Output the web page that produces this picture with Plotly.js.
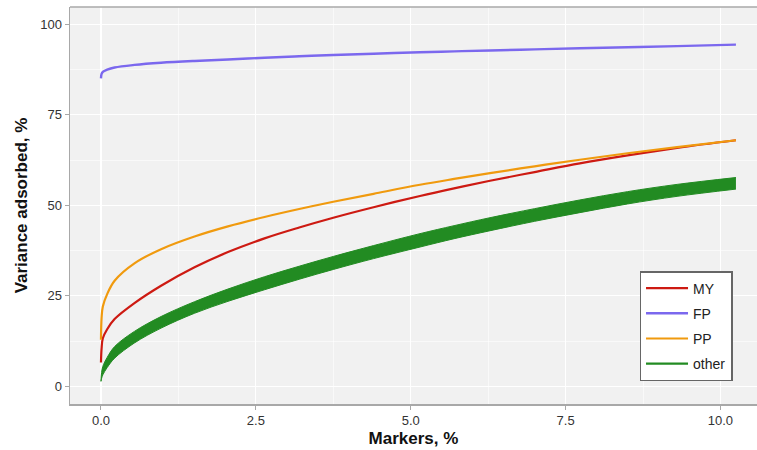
<!DOCTYPE html>
<html>
<head>
<meta charset="utf-8">
<script src="https://cdn.plot.ly/plotly-3.0.1.min.js"></script>
<style>html,body{margin:0;padding:0;background:#fff;}#chart{width:757px;height:450px;}</style>
</head>
<body>
<div id="chart"></div>
<script>
// Markers, % (shared x grid)
const markers = [0, 0.01, 0.03, 0.1, 0.22, 0.54, 0.97, 1.51, 2.05, 2.64, 3.2, 3.75, 4.4, 5.15, 5.7, 6.28, 7.0, 7.73, 8.5, 9.3, 10.25];
// Variance adsorbed, %
const MY = [6.6, 10.5, 13.3, 15.8, 18.6, 23.0, 27.8, 32.9, 37.1, 40.9, 43.9, 46.6, 49.5, 52.6, 54.7, 56.8, 59.2, 61.6, 63.8, 65.9, 68.0];
const FP = [85.1, 86.3, 86.9, 87.5, 88.1, 88.8, 89.4, 89.9, 90.3, 90.8, 91.2, 91.55, 91.9, 92.3, 92.55, 92.8, 93.1, 93.4, 93.7, 94.0, 94.4];
const PP = [12.9, 19.0, 22.1, 25.5, 29.2, 34.0, 37.9, 41.4, 44.2, 46.8, 49.0, 51.0, 53.2, 55.7, 57.3, 58.9, 60.8, 62.6, 64.4, 66.1, 68.0];
const otherUpper = [1.4, 3.8, 5.5, 8.0, 11.0, 15.2, 19.3, 23.4, 26.9, 30.3, 33.2, 35.9, 38.9, 42.2, 44.4, 46.6, 49.1, 51.5, 53.8, 55.8, 57.7];
const otherLower = [1.4, 2.2, 3.2, 5.2, 7.8, 12.0, 16.1, 20.2, 23.5, 26.7, 29.6, 32.3, 35.3, 38.5, 40.8, 43.0, 45.6, 48.0, 50.4, 52.5, 54.5];
const xTicks = [0, 2.5, 5, 7.5, 10];
const xTickText = ['0.0', '2.5', '5.0', '7.5', '10.0'];
const yTicks = [0, 25, 50, 75, 100];

const colMY = '#CD1A12', colFP = '#7B68EE', colPP = '#F09A0E', colOther = '#228B22';

const traces = [
  {x: markers, y: otherLower, type: 'scatter', mode: 'lines', line: {color: colOther, width: 1, shape: 'spline'}, showlegend: false, hoverinfo: 'skip'},
  {x: markers, y: otherUpper, type: 'scatter', mode: 'lines', fill: 'tonexty', fillcolor: colOther, line: {color: colOther, width: 1, shape: 'spline'}, showlegend: false, hoverinfo: 'skip'},
  {x: markers, y: MY, name: 'MY', legendgroup: 'a', type: 'scatter', mode: 'lines', line: {color: colMY, width: 2.2, shape: 'spline'}},
  {x: markers, y: FP, name: 'FP', legendgroup: 'b', type: 'scatter', mode: 'lines', line: {color: colFP, width: 2.4, shape: 'spline'}},
  {x: markers, y: PP, name: 'PP', legendgroup: 'c', type: 'scatter', mode: 'lines', line: {color: colPP, width: 2.2, shape: 'spline'}},
  {x: [null], y: [null], name: 'other', legendgroup: 'd', type: 'scatter', mode: 'lines', line: {color: colOther, width: 2.2}}
];

const layout = {
  width: 757, height: 450,
  margin: {l: 70, r: 0, t: 7, b: 46},
  paper_bgcolor: '#ffffff',
  plot_bgcolor: '#F1F1F1',
  font: {family: '"Liberation Sans", Arial, sans-serif', color: '#333333', size: 13},
  showlegend: true,
  legend: {
    x: 0.829, y: 0.335, xanchor: 'left', yanchor: 'top',
    bgcolor: '#ffffff', bordercolor: '#666666', borderwidth: 1.5,
    font: {size: 14, color: '#222222'},
    itemwidth: 42,
    traceorder: 'grouped', tracegroupgap: 4
  },
  xaxis: {
    range: [-0.5, 10.59],
    tickvals: xTicks, ticktext: xTickText,
    showgrid: true, gridcolor: '#ffffff', gridwidth: 1.2,
    minor: {dtick: 1.25, tick0: 0, showgrid: true, gridcolor: '#ffffff', gridwidth: 0.6},
    zeroline: false,
    showline: true, linecolor: '#A8A8A8', linewidth: 1.5, mirror: false,
    ticks: 'outside', ticklen: 4, tickcolor: '#A8A8A8', tickwidth: 1,
    tickfont: {size: 13, color: '#333333'},
    title: {text: '<b>Markers, %</b>', font: {size: 17, color: '#111111'}, standoff: 5}
  },
  yaxis: {
    range: [-4.86, 104.8],
    tickvals: yTicks,
    showgrid: true, gridcolor: '#ffffff', gridwidth: 1.2,
    minor: {dtick: 12.5, tick0: 0, showgrid: true, gridcolor: '#ffffff', gridwidth: 0.6},
    zeroline: false,
    showline: true, linecolor: '#A8A8A8', linewidth: 1.5,
    ticks: 'outside', ticklen: 4, tickcolor: '#A8A8A8', tickwidth: 1,
    tickfont: {size: 13, color: '#333333'},
    title: {text: '<b>Variance adsorbed, %</b>', font: {size: 17, color: '#111111'}, standoff: 8}
  },
  shapes: [
    {type: 'line', xref: 'paper', yref: 'paper', x0: 0, x1: 1, y0: 1, y1: 1, line: {color: '#A8A8A8', width: 1.5}}
  ]
};

Plotly.newPlot('chart', traces, layout, {displayModeBar: false, staticPlot: true});
</script>
</body>
</html>
